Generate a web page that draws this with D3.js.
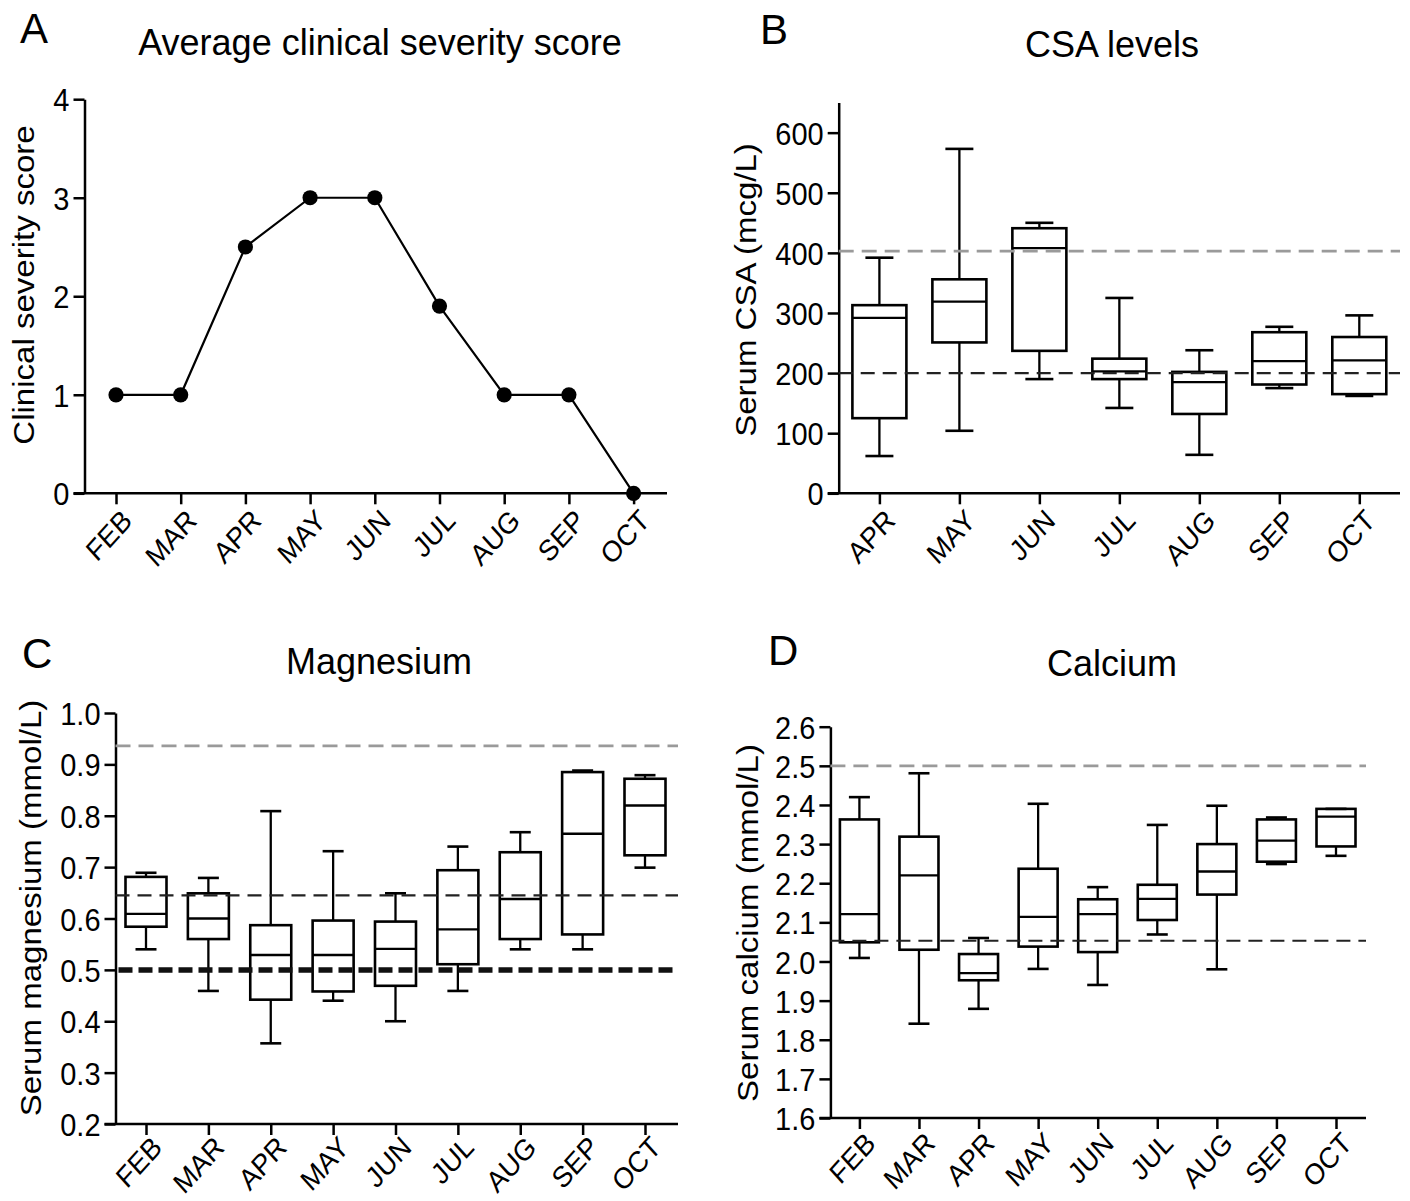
<!DOCTYPE html>
<html><head><meta charset="utf-8">
<script src="https://cdn.jsdelivr.net/npm/d3@7"></script>
<style>
body{margin:0;background:#fff;}
svg text{font-family:"Liberation Sans",Arial,Helvetica,sans-serif;fill:#000;}
</style></head><body>
<svg id="chart" width="1410" height="1201" style="background:#fff"></svg>
<script>
// ---------------- data ----------------
const monthsA = ["FEB","MAR","APR","MAY","JUN","JUL","AUG","SEP","OCT"];
const severityScore = [1, 1, 2.5, 3, 3, 1.9, 1, 1, 0];
const ticksA = [0, 1, 2, 3, 4];

const monthsB = ["APR","MAY","JUN","JUL","AUG","SEP","OCT"];
const csaMin    = [62, 104, 190, 142, 64, 175, 162];
const csaQ1     = [125, 251, 237, 190, 132, 181, 165];
const csaMedian = [292, 319, 408, 203, 185, 220, 221];
const csaQ3     = [313, 356, 441, 224, 202, 268, 260];
const csaMax    = [392, 573, 450, 325, 238, 277, 296];
const csaRefs   = [403, 200];
const ticksB = [0, 100, 200, 300, 400, 500, 600];

const monthsC = ["FEB","MAR","APR","MAY","JUN","JUL","AUG","SEP","OCT"];
const mgMin    = [0.540, 0.459, 0.357, 0.440, 0.400, 0.459, 0.540, 0.540, 0.699];
const mgQ1     = [0.584, 0.560, 0.442, 0.458, 0.469, 0.511, 0.560, 0.569, 0.723];
const mgMedian = [0.609, 0.600, 0.529, 0.529, 0.541, 0.579, 0.638, 0.765, 0.820];
const mgQ3     = [0.681, 0.649, 0.587, 0.596, 0.594, 0.694, 0.729, 0.885, 0.872];
const mgMax    = [0.689, 0.679, 0.809, 0.731, 0.649, 0.740, 0.768, 0.888, 0.879];
const mgRefs   = [0.936, 0.645, 0.5];
const ticksC = [0.2, 0.3, 0.4, 0.5, 0.6, 0.7, 0.8, 0.9, 1.0];

const monthsD = ["FEB","MAR","APR","MAY","JUN","JUL","AUG","SEP","OCT"];
const caMin    = [2.009, 1.841, 1.879, 1.981, 1.940, 2.069, 1.980, 2.249, 2.270];
const caQ1     = [2.049, 2.030, 1.952, 2.038, 2.024, 2.106, 2.171, 2.255, 2.294];
const caMedian = [2.121, 2.220, 1.970, 2.114, 2.121, 2.160, 2.230, 2.309, 2.370];
const caQ3     = [2.363, 2.319, 2.019, 2.237, 2.159, 2.196, 2.300, 2.363, 2.390];
const caMax    = [2.420, 2.481, 2.060, 2.403, 2.190, 2.349, 2.398, 2.368, 2.390];
const caRefs   = [2.5, 2.053];
const ticksD = [1.6, 1.7, 1.8, 1.9, 2.0, 2.1, 2.2, 2.3, 2.4, 2.5, 2.6];

// ---------------- drawing ----------------
const svg = d3.select("#chart");
const FONT = '"Liberation Sans", Arial, Helvetica, sans-serif';
const AXW = 2.5, TICK = 11, STRETCH = 1.11;

function axes(g, cfg, x, y) {
  // y axis
  const ya = d3.axisLeft(y).tickValues(cfg.yTicks).tickFormat(cfg.fmt)
    .tickSize(TICK).tickSizeOuter(0).tickPadding(4);
  const gy = g.append("g").attr("transform", `translate(${cfg.axisX},0)`).call(ya);
  gy.select(".domain").attr("stroke-width", AXW);
  gy.selectAll(".tick line").attr("stroke-width", AXW);
  gy.selectAll("text").attr("font-size", 29).attr("font-family", FONT).attr("dy", "0.36em")
    .attr("transform", `scale(1,${STRETCH})`);
  gy.attr("font-size", null).attr("font-family", null);
  // x axis
  const xa = d3.axisBottom(x).tickSize(TICK).tickSizeOuter(0).tickPadding(0);
  const gx = g.append("g").attr("transform", `translate(0,${cfg.bottom})`).call(xa);
  gx.select(".domain").remove();
  gx.append("line").attr("x1", cfg.axisX - TICK).attr("x2", cfg.xEnd)
    .attr("y1", 0).attr("y2", 0).attr("stroke", "#000").attr("stroke-width", AXW);
  gx.selectAll(".tick line").attr("stroke-width", AXW);
  gx.selectAll(".tick text").attr("font-size", 26.5).attr("font-family", FONT)
    .attr("text-anchor", "end").attr("x", null).attr("y", null).attr("dy", null)
    .attr("transform", `translate(${cfg.lblDx},${cfg.lblDy}) scale(1,${STRETCH}) rotate(-45)`);
  gx.attr("font-size", null).attr("font-family", null);
  // titles
  g.append("text").attr("x", cfg.titleX).attr("y", cfg.titleY).attr("text-anchor", "middle")
    .attr("font-size", 36).text(cfg.title);
  g.append("text").attr("x", cfg.letterX).attr("y", cfg.letterY)
    .attr("font-size", 42).text(cfg.letter);
  g.append("text").attr("transform", `translate(${cfg.ytX},${cfg.ytY}) scale(1,${STRETCH + 0.01}) rotate(-90)`)
    .attr("text-anchor", "middle").attr("font-size", 29.5).text(cfg.yTitle);
}

function refLines(g, cfg, y, refs, styles) {
  refs.forEach((v, i) => {
    const s = styles[i];
    g.append("line").attr("x1", cfg.axisX + (s.inset || 0)).attr("x2", s.end || cfg.xEnd)
      .attr("y1", y(v)).attr("y2", y(v))
      .attr("stroke", s.color).attr("stroke-width", s.w)
      .attr("stroke-dasharray", s.dash).attr("stroke-linecap", s.cap || "butt");
  });
}

function boxes(g, cfg, x, y, months, mn, q1, md, q3, mx) {
  const bw = cfg.boxW, cw = cfg.capW;
  const gb = g.append("g").attr("stroke", "#000").attr("fill", "none");
  months.forEach((m, i) => {
    const cx = x(m);
    gb.append("line").attr("x1", cx).attr("x2", cx).attr("y1", y(mn[i])).attr("y2", y(q1[i])).attr("stroke-width", 2.3);
    gb.append("line").attr("x1", cx).attr("x2", cx).attr("y1", y(q3[i])).attr("y2", y(mx[i])).attr("stroke-width", 2.3);
    gb.append("line").attr("x1", cx - cw/2).attr("x2", cx + cw/2).attr("y1", y(mn[i])).attr("y2", y(mn[i])).attr("stroke-width", 2.6);
    gb.append("line").attr("x1", cx - cw/2).attr("x2", cx + cw/2).attr("y1", y(mx[i])).attr("y2", y(mx[i])).attr("stroke-width", 2.6);
    gb.append("rect").attr("x", cx - bw/2).attr("width", bw)
      .attr("y", y(q3[i])).attr("height", y(q1[i]) - y(q3[i])).attr("stroke-width", 2.6);
    gb.append("line").attr("x1", cx - bw/2).attr("x2", cx + bw/2).attr("y1", y(md[i])).attr("y2", y(md[i])).attr("stroke-width", 2.3);
  });
}

const GRAY = {color: "#9a9a9a", w: 2.8, dash: "15,8"};
const BLACK = {color: "#222", w: 2.2, dash: "14,8"};

// ---- Panel A ----
{
  const cfg = {axisX: 84.5, bottom: 493.3, top: 99.2, first: 116, last: 633.6, xEnd: 667,
    yTicks: ticksA, fmt: d3.format("d"), lblDx: 17, lblDy: 29,
    title: "Average clinical severity score", titleX: 380, titleY: 55,
    letter: "A", letterX: 20, letterY: 43, yTitle: "Clinical severity score", ytX: 34, ytY: 285};
  const g = svg.append("g");
  const x = d3.scalePoint().domain(monthsA).range([cfg.first, cfg.last]);
  const y = d3.scaleLinear().domain([0, 4]).range([cfg.bottom, cfg.top]);
  axes(g, cfg, x, y);
  const line = d3.line().x((d, i) => x(monthsA[i])).y(d => y(d));
  g.append("path").datum(severityScore).attr("d", line).attr("fill", "none")
    .attr("stroke", "#000").attr("stroke-width", 2.2);
  g.selectAll("circle.pt").data(severityScore).join("circle").attr("class", "pt")
    .attr("cx", (d, i) => x(monthsA[i])).attr("cy", d => y(d)).attr("r", 7.6).attr("fill", "#000");
}

// ---- Panel B ----
{
  const cfg = {axisX: 838.7, bottom: 493.3, top: 102.6, first: 879.4, last: 1359.3, xEnd: 1400,
    yTicks: ticksB, fmt: d3.format("d"), lblDx: 17, lblDy: 29, boxW: 54, capW: 28,
    title: "CSA levels", titleX: 1112, titleY: 57,
    letter: "B", letterX: 760, letterY: 44, yTitle: "Serum CSA (mcg/L)", ytX: 756, ytY: 290};
  const g = svg.append("g");
  const x = d3.scalePoint().domain(monthsB).range([cfg.first, cfg.last]);
  const y = d3.scaleLinear().domain([0, 650]).range([cfg.bottom, cfg.top]);
  axes(g, cfg, x, y);
  boxes(g, cfg, x, y, monthsB, csaMin, csaQ1, csaMedian, csaQ3, csaMax);
  refLines(g, cfg, y, csaRefs, [GRAY, BLACK]);
}

// ---- Panel C ----
{
  const cfg = {axisX: 115.5, bottom: 1124, top: 713, first: 146, last: 645, xEnd: 678,
    yTicks: ticksC, fmt: d3.format(".1f"), lblDx: 17, lblDy: 25, boxW: 41, capW: 21,
    title: "Magnesium", titleX: 379, titleY: 674,
    letter: "C", letterX: 22, letterY: 668, yTitle: "Serum magnesium (mmol/L)", ytX: 41, ytY: 908};
  const g = svg.append("g");
  const x = d3.scalePoint().domain(monthsC).range([cfg.first, cfg.last]);
  const y = d3.scaleLinear().domain([0.2, 1.0]).range([cfg.bottom, cfg.top]);
  axes(g, cfg, x, y);
  boxes(g, cfg, x, y, monthsC, mgMin, mgQ1, mgMedian, mgQ3, mgMax);
  refLines(g, cfg, y, mgRefs, [GRAY, BLACK,
    {color: "#111", w: 5.5, dash: "14,6", inset: 3, end: 673}]);
}

// ---- Panel D ----
{
  const cfg = {axisX: 830.4, bottom: 1118, top: 726.7, first: 859.4, last: 1336, xEnd: 1366,
    yTicks: ticksD, fmt: d3.format(".1f"), lblDx: 17, lblDy: 27, boxW: 39, capW: 21,
    title: "Calcium", titleX: 1112, titleY: 676,
    letter: "D", letterX: 768, letterY: 665, yTitle: "Serum calcium (mmol/L)", ytX: 758, ytY: 923};
  const g = svg.append("g");
  const x = d3.scalePoint().domain(monthsD).range([cfg.first, cfg.last]);
  const y = d3.scaleLinear().domain([1.6, 2.6]).range([cfg.bottom, cfg.top]);
  axes(g, cfg, x, y);
  boxes(g, cfg, x, y, monthsD, caMin, caQ1, caMedian, caQ3, caMax);
  refLines(g, cfg, y, caRefs, [GRAY, BLACK]);
}
</script>
</body></html>
